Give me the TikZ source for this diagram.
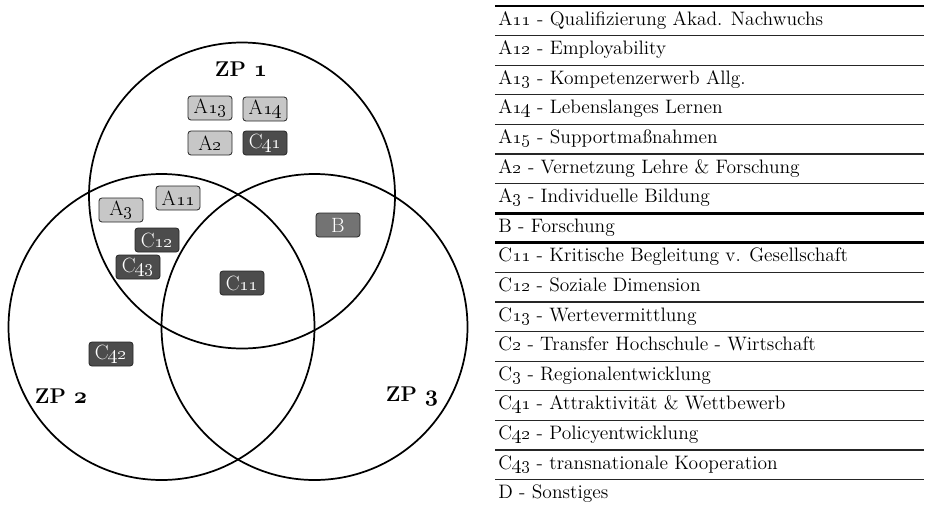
\documentclass[tikz,border=0pt]{standalone}
\newcommand\on[1]{\oldstylenums{#1}}
\newcommand\onb[1]{{\usefont{OML}{cmm}{b}{it}#1}}
\begin{document}
\begin{tikzpicture}[x=0.75pt,y=-0.75pt,
  zp/.style={circle, draw, line width=1.3pt, minimum size=229.5pt, inner sep=0pt},
  zplabel/.style={font=\bfseries\fontsize{16}{18}\selectfont},
  box/.style={draw=black!85, rounded corners=2.2pt, minimum width=33pt, minimum height=18pt, inner sep=0pt, line width=0.6pt, font=\fontsize{15.5}{17}\selectfont},
  light/.style={box, fill=black!22, text=black},
  dark/.style={box, fill=black!70, text=white},
  mid/.style={box, fill=black!55, text=white},
  row/.style={anchor=base west, inner sep=0pt, font=\fontsize{14.6}{16}\selectfont},
  thin/.style={line width=1pt, black!85},
  thick/.style={line width=2pt, black}]
\useasboundingbox (0,0) rectangle (925,511);
% circles
\node[zp] (c1) at (242,195.5) {};
\node[zp] (c2) at (161.5,327) {};
\node[zp] (c3) at (314.5,327) {};
% labels
\node[zplabel] (l1) at (241,69) {ZP~\onb{1}};
\node[zplabel] (l2) at (61,396) {ZP~\onb{2}};
\node[zplabel] (l3) at (412,396) {ZP~\onb{3}};
% boxes
\node[light] (a13) at (210,108) {A\on{13}};
\node[light] (a14) at (265,109) {A\on{14}};
\node[light] (a2) at (210,143) {A\on{2}};
\node[dark] (c41) at (265,143) {C\on{41}};
\node[light] (a11) at (178,198) {A\on{11}};
\node[light] (a3) at (121,210) {A\on{3}};
\node[mid] (b) at (338,225) {B};
\node[dark] (c12) at (157,240) {C\on{12}};
\node[dark] (c43) at (138,267) {C\on{43}};
\node[dark] (c11) at (242,283) {C\on{11}};
\node[dark] (c42) at (111,354) {C\on{42}};
% table
\draw[thick] (495,6) -- (924,6);
\foreach \k in {1,...,16}{
  \ifnum\k=7 \draw[thick] (495,6+29.6*\k) -- (924,6+29.6*\k);
  \else\ifnum\k=8 \draw[thick] (495,6+29.6*\k) -- (924,6+29.6*\k);
  \else \draw[thin] (495,6+29.6*\k) -- (924,6+29.6*\k);\fi\fi
}
\node[row] (r1) at (498,6+29.6*1-10.5) {A\on{11} - Qualifizierung Akad. Nachwuchs};
\node[row] (r2) at (498,6+29.6*2-10.5) {A\on{12} - Employability};
\node[row] (r3) at (498,6+29.6*3-10.5) {A\on{13} - Kompetenzerwerb Allg.};
\node[row] (r4) at (498,6+29.6*4-10.5) {A\on{14} - Lebenslanges Lernen};
\node[row] (r5) at (498,6+29.6*5-10.5) {A\on{15} - Supportma\ss nahmen};
\node[row] (r6) at (498,6+29.6*6-10.5) {A\on{2} - Vernetzung Lehre \& Forschung};
\node[row] (r7) at (498,6+29.6*7-10.5) {A\on{3} - Individuelle Bildung};
\node[row] (r8) at (498,6+29.6*8-10.5) {B - Forschung};
\node[row] (r9) at (498,6+29.6*9-10.5) {C\on{11} - Kritische Begleitung v. Gesellschaft};
\node[row] (r10) at (498,6+29.6*10-10.5) {C\on{12} - Soziale Dimension};
\node[row] (r11) at (498,6+29.6*11-10.5) {C\on{13} - Wertevermittlung};
\node[row] (r12) at (498,6+29.6*12-10.5) {C\on{2} - Transfer Hochschule - Wirtschaft};
\node[row] (r13) at (498,6+29.6*13-10.5) {C\on{3} - Regionalentwicklung};
\node[row] (r14) at (498,6+29.6*14-10.5) {C\on{41} - Attraktivit\"at \& Wettbewerb};
\node[row] (r15) at (498,6+29.6*15-10.5) {C\on{42} - Policyentwicklung};
\node[row] (r16) at (498,6+29.6*16-10.5) {C\on{43} - transnationale Kooperation};
\node[row] (r17) at (498,6+29.6*17-10.5) {D - Sonstiges};
\end{tikzpicture}
\end{document}
